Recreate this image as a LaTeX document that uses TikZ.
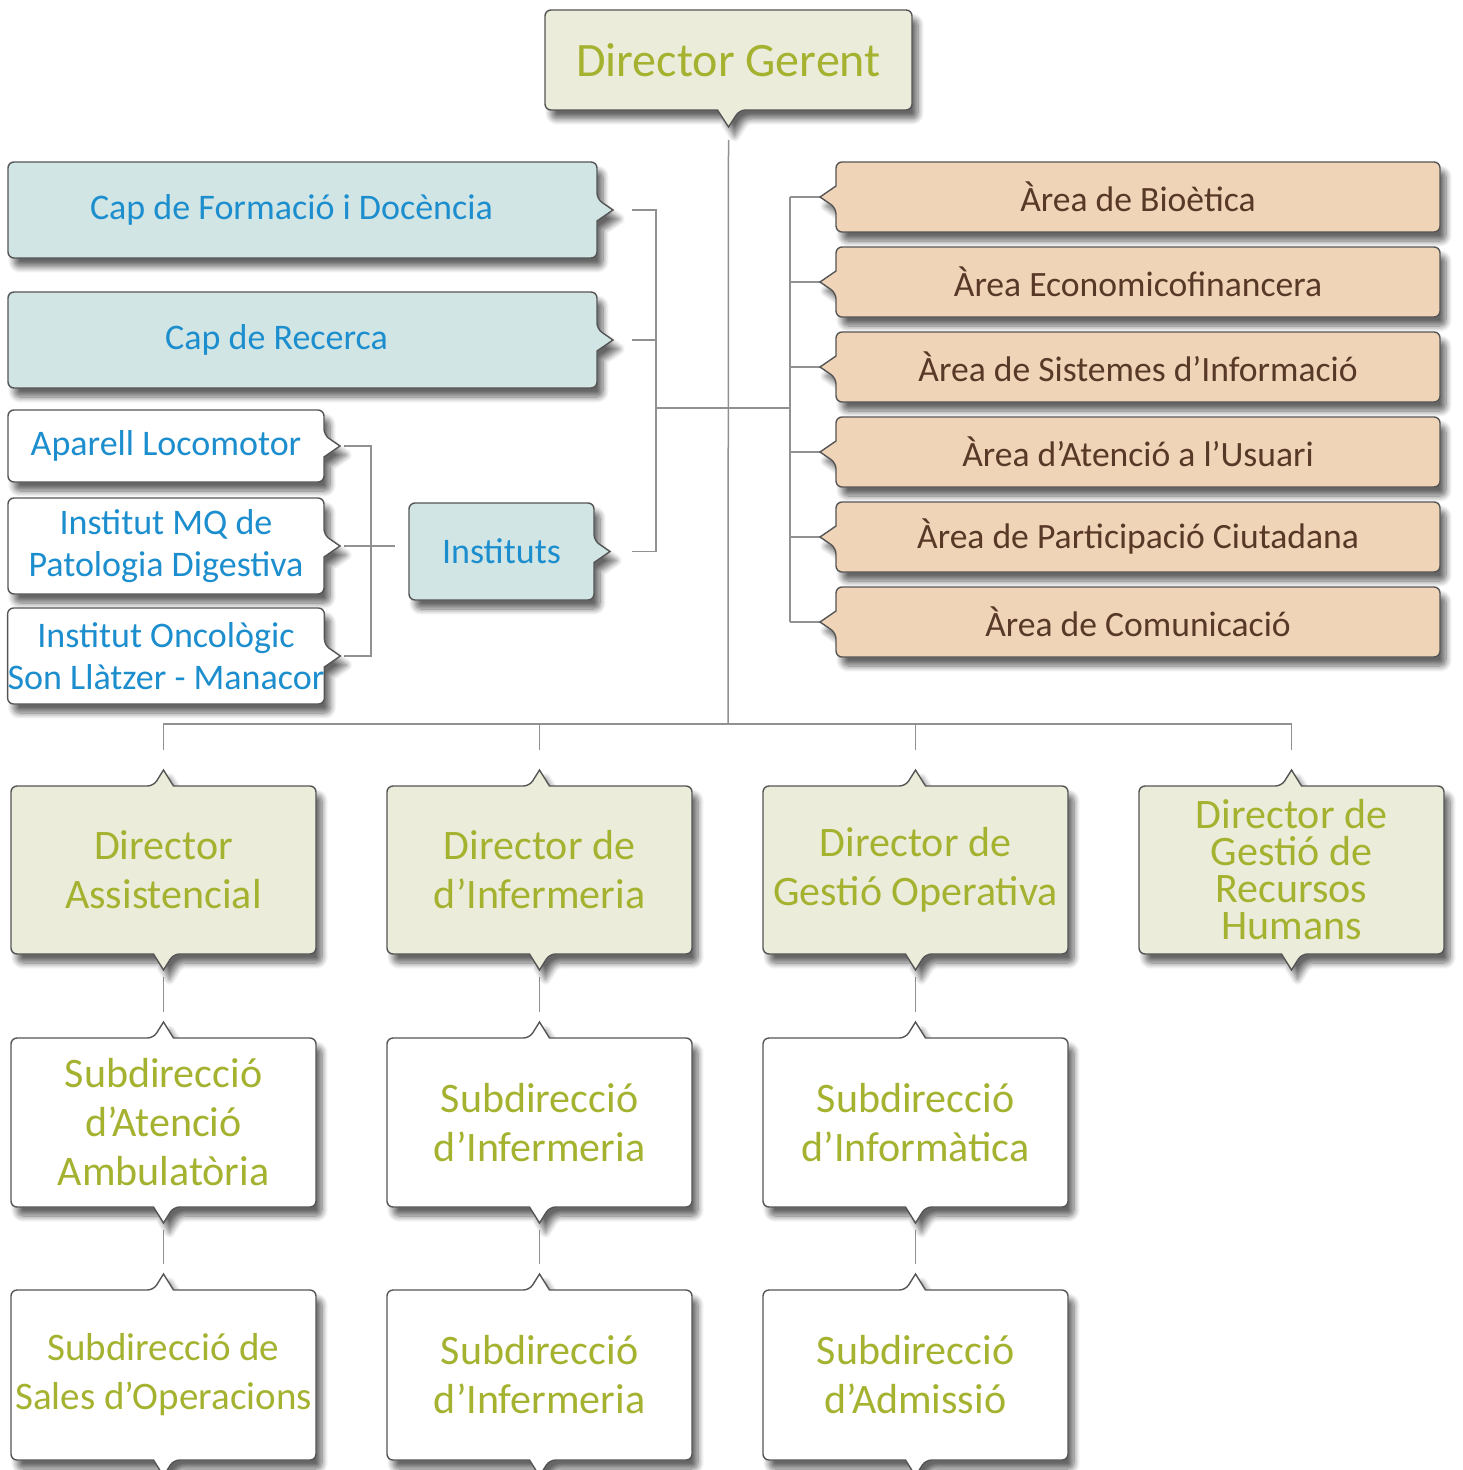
\documentclass[tikz,border=0pt]{standalone}
\usepackage{fontspec}
\setmainfont{Carlito}
\usetikzlibrary{calc,shadows.blur}
\definecolor{gfill}{RGB}{236,236,218}
\definecolor{gtext}{RGB}{164,178,48}
\definecolor{bfill}{RGB}{209,229,229}
\definecolor{btext}{RGB}{28,142,206}
\definecolor{pfill}{RGB}{240,212,184}
\definecolor{ptext}{RGB}{88,56,38}
\definecolor{edgec}{RGB}{85,85,85}
\definecolor{linkc}{RGB}{145,145,145}
\pgfdeclarelayer{bg}
\pgfsetlayers{bg,main}
\tikzset{
  boxshape/.style={draw=edgec, line width=0.7pt, rounded corners=3pt,
    blur shadow={shadow xshift=3pt, shadow yshift=-4.5pt, shadow blur radius=3pt, shadow blur steps=8, shadow opacity=60}},
  gshape/.style={boxshape, fill=gfill},
  wshape/.style={boxshape, fill=white},
  bshape/.style={boxshape, fill=bfill},
  pshape/.style={boxshape, fill=pfill},
  wh/.style 2 args={minimum width=#1*0.5pt, minimum height=#2*0.5pt},
  lbl/.style={inner sep=0pt, outer sep=0pt, align=center},
  gtxt/.style={lbl, text=gtext, font=\fontsize{21pt}{24.5pt}\selectfont},
  btxt/.style={lbl, text=btext, font=\fontsize{18pt}{21pt}\selectfont},
  ptxt/.style={lbl, text=ptext, font=\fontsize{17.8pt}{21pt}\selectfont, wh={604}{70}},
  dbox/.style={gtxt, wh={305}{168}},
  sbox/.style={gtxt, wh={305}{169}},
  tbox/.style={gtxt, wh={305}{170}},
  link/.style={draw=linkc, line width=0.75pt},
}
% shapes around named nodes
\newcommand\shpD[2]{\path[#2] (#1.west) -- (#1.north west) -- (#1.north east) -- (#1.south east) -- ([xshift=5.5pt]#1.south) [sharp corners] -- ([yshift=-8.5pt]#1.south) -- ([xshift=-5.5pt]#1.south) [rounded corners=3pt] -- (#1.south west) -- cycle;}
\newcommand\shpUD[2]{\path[#2] (#1.west) -- (#1.north west) -- ([xshift=-5pt]#1.north) [sharp corners] -- ([yshift=8pt]#1.north) -- ([xshift=5pt]#1.north) [rounded corners=3pt] -- (#1.north east) -- (#1.south east) -- ([xshift=5pt]#1.south) [sharp corners] -- ([yshift=-8pt]#1.south) -- ([xshift=-5pt]#1.south) [rounded corners=3pt] -- (#1.south west) -- cycle;}
\newcommand\shpR[2]{\path[#2] (#1.north) -- (#1.north east) -- ([yshift=5.5pt]#1.east) [sharp corners] -- ([xshift=8pt]#1.east) -- ([yshift=-5.5pt]#1.east) [rounded corners=3pt] -- (#1.south east) -- (#1.south west) -- (#1.north west) -- cycle;}
\newcommand\shpL[2]{\path[#2] (#1.north) -- (#1.north east) -- (#1.south east) -- (#1.south west) -- ([yshift=-5.5pt]#1.west) [sharp corners] -- ([xshift=-8pt]#1.west) -- ([yshift=5.5pt]#1.west) [rounded corners=3pt] -- (#1.north west) -- cycle;}
\begin{document}
\begin{tikzpicture}[x=0.5pt,y=-0.5pt]
\useasboundingbox (0,0) rectangle (1462,1470);
% ---------- nodes ----------
\node[gtxt, font=\fontsize{24pt}{28pt}\selectfont, wh={367}{100}] (dg) at (728.5,60) {Director Gerent};
\node[btxt, wh={589}{96}] (cf) at (302.5,210) {Cap de Formació i Docència\hspace*{11pt}};
\node[btxt, wh={589}{96}] (cr) at (302.5,340) {Cap de Recerca\hspace*{26pt}};
\node[btxt, wh={316}{72}] (al) at (166,446) {Aparell Locomotor};
\node[btxt, wh={316}{96}] (mq) at (166,546) {Institut MQ de\\Patologia Digestiva};
\node[btxt, wh={316}{96}] (on) at (166,656) {Institut Oncològic\\Son Llàtzer - Manacor};
\node[btxt, wh={185}{97}] (inst) at (501.5,551.5) {Instituts};
\node[ptxt] (a1) at (1138,197) {Àrea de Bioètica};
\node[ptxt] (a2) at (1138,282) {Àrea Economicofinancera};
\node[ptxt] (a3) at (1138,367) {Àrea de Sistemes d’Informació};
\node[ptxt] (a4) at (1138,452) {Àrea d’Atenció a l’Usuari};
\node[ptxt] (a5) at (1138,537) {Àrea de Participació Ciutadana};
\node[ptxt] (a6) at (1138,622) {Àrea de Comunicació};
\node[dbox] (da) at (163.5,870) {Director\\Assistencial};
\node[dbox] (di) at (539.5,870) {Director de\\d’Infermeria};
\node[dbox] (dgo) at (915.5,870) {Director de\\Gestió Operativa};
\node[dbox, font=\fontsize{21pt}{18.5pt}\selectfont] (drh) at (1291.5,870) {Director de\\Gestió de\\Recursos\\Humans};
\node[sbox] (s1) at (163.5,1122.5) {Subdirecció\\d’Atenció\\Ambulatòria};
\node[sbox] (s2) at (539.5,1122.5) {Subdirecció\\d’Infermeria};
\node[sbox] (s3) at (915.5,1122.5) {Subdirecció\\d’Informàtica};
\node[tbox, font=\fontsize{19.5pt}{24.5pt}\selectfont] (t1) at (163.5,1375) {Subdirecció de\\Sales d’Operacions};
\node[tbox] (t2) at (539.5,1375) {Subdirecció\\d’Infermeria};
\node[tbox] (t3) at (915.5,1375) {Subdirecció\\d’Admissió};
% junction coordinates
\coordinate (jbot) at (728,724);
\coordinate (lv) at (656,408);
\coordinate (rv) at (790,408);
\coordinate (iv) at (371,546);
\begin{pgfonlayer}{bg}
% ---------- connectors ----------
\draw[link] ([yshift=-15pt]dg.south) -- (jbot);
\draw[link] ([xshift=17.5pt]cf.east) -- (cf.east -| lv) -- (inst.east -| lv) -- ([xshift=19pt]inst.east);
\draw[link] ([xshift=17.5pt]cr.east) -- (cr.east -| lv);
\draw[link] (lv) -- (rv);
\draw[link] (a1.west -| rv) -- (a6.west -| rv);
\foreach \a in {a1,a2,a3,a4,a5,a6}{\draw[link] (\a.west -| rv) -- ([xshift=-8pt]\a.west);}
\draw[link] ([xshift=10pt]al.east) -- (al.east -| iv) -- (on.east -| iv) -- ([xshift=10pt]on.east);
\draw[link] ([xshift=10pt]mq.east) -- ([xshift=-7pt]mq.east -| inst.west);
\draw[link] ([yshift=18pt]da.north) -- (da.north |- jbot) -- (drh.north |- jbot) -- ([yshift=18pt]drh.north);
\draw[link] (di.north |- jbot) -- ([yshift=18pt]di.north);
\draw[link] (dgo.north |- jbot) -- ([yshift=18pt]dgo.north);
\draw[link] ([yshift=-11.5pt]da.south) -- ([yshift=13pt]s1.north);
\draw[link] ([yshift=-11.5pt]di.south) -- ([yshift=13pt]s2.north);
\draw[link] ([yshift=-11.5pt]dgo.south) -- ([yshift=13pt]s3.north);
\draw[link] ([yshift=-11.5pt]s1.south) -- ([yshift=13pt]t1.north);
\draw[link] ([yshift=-11.5pt]s2.south) -- ([yshift=13pt]t2.north);
\draw[link] ([yshift=-11.5pt]s3.south) -- ([yshift=13pt]t3.north);
% ---------- box shapes ----------
\shpD{dg}{gshape}
\shpR{cf}{bshape}
\shpR{cr}{bshape}
\shpR{al}{wshape}
\shpR{mq}{wshape}
\shpR{on}{wshape}
\shpR{inst}{bshape}
\foreach \a in {a1,a2,a3,a4,a5,a6}{\shpL{\a}{pshape}}
\foreach \d in {da,di,dgo,drh}{\shpUD{\d}{gshape}}
\foreach \s in {s1,s2,s3,t1,t2,t3}{\shpUD{\s}{wshape}}
\end{pgfonlayer}
\end{tikzpicture}
\end{document}
